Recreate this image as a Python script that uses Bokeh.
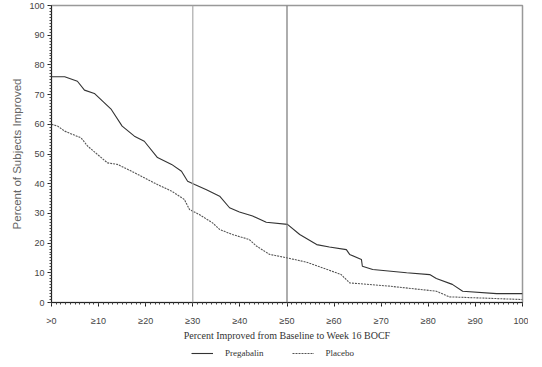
from bokeh.plotting import figure
from bokeh.layouts import column
from bokeh.models import (Range1d, SingleIntervalTicker, Span, Legend, LegendItem)
from bokeh.embed import file_html
from bokeh.resources import INLINE

# Data
preg_x = [0, 2.8, 5.5, 7, 9.1, 12.7, 15, 17.6, 19.7, 22.5, 25.5, 27.6, 28.9, 30.4,
          32.9, 35.7, 37.8, 39.9, 42.7, 45.6, 50.1, 52.7, 56.3, 59, 62.6, 63.3,
          65.8, 66, 68.2, 75.4, 80.3, 81.7, 85.1, 87.3, 94.5, 100]
preg_y = [76, 76, 74.5, 71.5, 70.4, 65, 59.4, 56, 54.3, 48.8, 46.5, 44.2, 40.8, 39.7,
          38, 35.8, 31.9, 30.5, 29.1, 27, 26.3, 22.9, 19.5, 18.7, 17.8, 16.2,
          14.5, 12.2, 11.1, 10, 9.4, 8.1, 6.1, 3.8, 3, 3]
plac_x = [0, 1.3, 2.8, 6.3, 7.7, 9.8, 11.9, 14, 17, 19.7, 22.5, 25.5, 28.2, 29.3,
          31.4, 34.2, 35.7, 38.4, 42, 43.5, 46.3, 50.1, 54.1, 57.5, 60.5, 61.5,
          63.3, 71.8, 81.7, 84.5, 100]
plac_y = [60, 59.4, 57.7, 55.4, 52.6, 49.8, 47, 46.5, 44.2, 42, 39.7, 37.5, 34.7, 31.3,
          29.6, 26.8, 24.6, 22.9, 21.2, 19, 16.2, 15, 13.6, 11.7, 10, 9.4,
          6.6, 5.5, 3.8, 1.9, 1]
x_ticks = [0, 10, 20, 30, 40, 50, 60, 70, 80, 90, 100]
x_labels = [">0", "≥10", "≥20", "≥30", "≥40", "≥50", "≥60", "≥70", "≥80", "≥90", "100"]
ref_lines = [30, 50]
series_names = ["Pregabalin", "Placebo"]

PREG_STYLE = dict(line_color="#333333", line_width=1.1)
PLAC_STYLE = dict(line_color="#555555", line_width=1.1, line_dash="2 1")

p = figure(frame_width=471, frame_height=297, output_backend="svg", toolbar_location=None,
           x_range=Range1d(0, 100), y_range=Range1d(0, 100),
           min_border_left=51, min_border_right=6, min_border_top=5, min_border_bottom=0)
p.grid.visible = False
p.background_fill_color = "white"
p.outline_line_color = "#999999"
p.outline_line_width = 1.5

for ax in (p.xaxis[0], p.yaxis[0]):
    ax.ticker = SingleIntervalTicker(interval=10, num_minor_ticks=10)
    ax.axis_line_color = "#222222"
    ax.major_tick_line_color = "#222222"
    ax.minor_tick_line_color = "#444444"
    ax.major_tick_out = 4
    ax.major_tick_in = 0
    ax.minor_tick_out = 2
    ax.minor_tick_in = 0
    ax.major_label_text_font = "Liberation Sans"
    ax.major_label_text_font_size = "9px"
    ax.major_label_text_color = "#444444"

p.xaxis.major_label_overrides = {t: l for t, l in zip(x_ticks, x_labels)}
p.xaxis.major_label_standoff = 9
p.xaxis.axis_label = "Percent Improved from Baseline to Week 16 BOCF"
p.xaxis.axis_label_text_font = "Liberation Serif"
p.xaxis.axis_label_text_font_style = "normal"
p.xaxis.axis_label_text_font_size = "10px"
p.xaxis.axis_label_text_color = "#333333"
p.xaxis.axis_label_standoff = 1

p.yaxis.axis_label = "Percent of Subjects Improved"
p.yaxis.axis_label_text_font = "Liberation Sans"
p.yaxis.axis_label_text_font_style = "normal"
p.yaxis.axis_label_text_font_size = "11.5px"
p.yaxis.axis_label_text_color = "#666666"
p.yaxis.axis_label_standoff = 3
p.yaxis.major_label_standoff = 3

for xv, col in zip(ref_lines, ["#aaaaaa", "#777777"]):
    p.add_layout(Span(location=xv, dimension="height", line_color=col, line_width=1.2))

p.line(preg_x, preg_y, **PREG_STYLE)
p.line(plac_x, plac_y, **PLAC_STYLE)

# Legend strip below the chart (same series styles; data kept off-screen)
q = figure(frame_width=471, frame_height=16, output_backend="svg", toolbar_location=None,
           x_range=Range1d(0, 100), y_range=Range1d(500, 600),
           min_border_left=51, min_border_right=6, min_border_top=0, min_border_bottom=0)
q.axis.visible = False
q.grid.visible = False
q.outline_line_color = None
q1 = q.line(preg_x, preg_y, **PREG_STYLE)
q2 = q.line(plac_x, plac_y, **PLAC_STYLE)
legend = Legend(items=[LegendItem(label=series_names[0], renderers=[q1]),
                       LegendItem(label=series_names[1], renderers=[q2])],
                orientation="horizontal", location=(140, 0),
                label_text_font="Liberation Serif", label_text_font_size="9px",
                label_text_color="#333333", glyph_width=22, glyph_height=12,
                label_height=12, spacing=28,
                label_standoff=12, padding=2, margin=0, border_line_color=None,
                background_fill_alpha=0)
q.add_layout(legend)

layout = column(p, q, spacing=0)
open("out.html", "w").write(file_html(layout, INLINE))
